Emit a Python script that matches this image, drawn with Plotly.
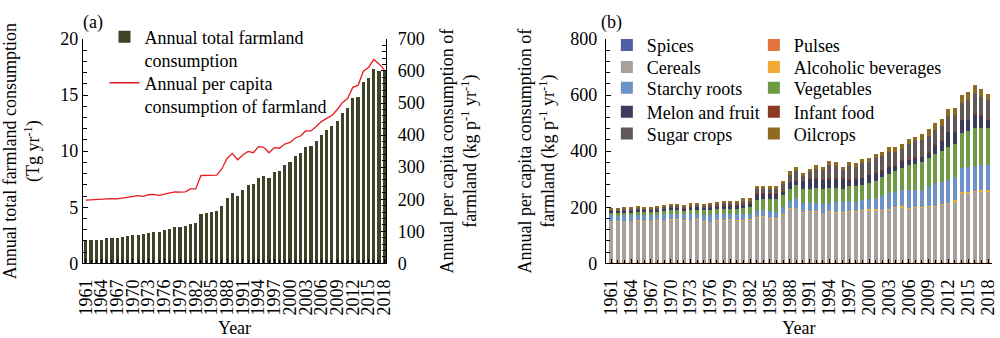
import plotly.graph_objects as go

# ---------------- data ----------------
years = list(range(1961, 2019))

# Panel (a): annual total farmland consumption (Tg/yr)
total_farmland = [1.96, 2.04, 2.09, 2.09, 2.23, 2.23, 2.26, 2.32, 2.46, 2.51,
                  2.57, 2.60, 2.71, 2.79, 2.82, 2.96, 3.07, 3.21, 3.24, 3.35,
                  3.52, 3.63, 4.36, 4.47, 4.61, 4.69, 5.11, 5.81, 6.31, 6.03,
                  6.56, 6.98, 7.04, 7.63, 7.77, 7.60, 8.10, 8.21, 8.72, 9.02,
                  9.55, 9.86, 10.34, 10.50, 10.92, 11.45, 11.87, 12.23, 12.71, 13.44,
                  13.85, 14.75, 14.83, 16.17, 16.51, 17.35, 17.18, 17.15]

# Panel (a): annual per capita consumption of farmland (kg/p/yr)
per_capita = [197.5, 198.5, 199.5, 200, 203, 202, 201, 204, 207, 210,
              211, 209, 214, 215, 212, 216, 219, 223, 222, 223,
              232, 232, 274, 275, 275, 275, 295, 328, 343, 323,
              338, 349, 345, 364, 362, 345, 361, 359, 372, 377,
              391, 397, 413, 413, 427, 442, 452, 461, 479, 501,
              514, 549, 555, 599, 611, 636, 622, 604]

# Panel (b): per capita consumption by food group (kg/p/yr)
spices = [0.5] * 58
pulses = [5.0] * 58
cereals = [146.5, 145.5, 146.5, 146.5, 147.5, 145.5, 144.5, 147.5, 149.5, 152.5,
           150.5, 148.5, 149.5, 151.5, 145.5, 142.5, 148.5, 148.5, 150.5, 148.5,
           147.5, 151.5, 159.5, 161.5, 156.5, 154.5, 170.5, 189.5, 192.5, 176.5,
           179.5, 179.5, 174.5, 179.5, 177.5, 177.5, 181.5, 179.5, 184.5, 184.5,
           184.5, 182.5, 187.5, 193.5, 195.5, 190.5, 193.5, 193.5, 196.5, 196.5,
           204.5, 207.5, 215.5, 245.5, 245.5, 249.5, 252.5, 252.5]
alcoholic = [0.5] * 22 + [1.0] * 17 + [2.0] * 12 + [3.5] * 7
starchy_roots = [19, 19, 19, 19, 20, 21, 21, 20, 20, 19,
                 20, 20, 21, 20, 22, 24, 21, 21, 20, 20,
                 21, 19, 22, 22, 24, 23, 24, 25, 33, 32,
                 31, 29, 29, 29, 33, 33, 33, 31, 36, 37,
                 40, 50, 54, 54, 58, 63, 62, 62, 73, 81,
                 78, 79.5, 82.5, 86.5, 87.5, 88.5, 87.5, 88.5]
vegetables = [8, 9, 9, 9, 10, 10, 10, 11, 11, 12,
              13, 13, 14, 14, 15, 16, 17, 19, 19, 21,
              23, 24, 39, 40, 43, 46, 42, 45, 47, 49,
              47, 53, 54, 53, 52, 49, 54, 60, 52, 59,
              62, 68, 71, 73, 80, 89, 92, 99, 97, 106,
              112, 118, 117, 124, 128, 137, 132, 134]
melon_fruit = [8, 8, 8, 9, 9, 9, 9, 9, 9, 9,
               10, 10, 10, 10, 10, 11, 11, 12, 12, 12,
               13, 13, 22, 19, 19, 19, 14, 25, 17, 30,
               39, 35, 35, 35, 34, 37, 24, 26, 26, 28,
               30, 25, 27, 22, 26, 22, 23, 18, 23, 33,
               37, 55, 45, 47, 42, 47, 48, 30]
infant_food = [0.3] * 58
sugar_crops = [4.7, 5.7, 5.7, 5.2, 5.2, 5.2, 5.2, 5.2, 6.2, 6.2,
               6.2, 6.2, 7.2, 7.2, 7.2, 10.2, 9.2, 10.2, 8.2, 9.2,
               14.2, 11.2, 14.7, 14.7, 14.7, 14.7, 25.7, 23.7, 33.7, 17.7,
               21.7, 31.7, 33.7, 46.7, 44.7, 29.7, 48.7, 41.7, 52.7, 44.7,
               49.7, 50.7, 50.7, 47.7, 41.7, 52.7, 57.7, 59.7, 57.7, 50.7,
               50.7, 55.7, 60.7, 60.7, 69.7, 75.7, 63.7, 67.7]
oilcrops = [5, 5, 5, 5, 5, 5, 5, 5, 5, 5,
            5, 5, 6, 6, 6, 6, 6, 6, 6, 6,
            7, 7, 10, 11, 11, 11, 12, 13, 13, 11,
            13, 14, 12, 14, 14, 12, 13, 14, 14, 16,
            17, 13, 15, 15, 18, 17, 16, 21, 24, 26,
            24, 24, 25, 26, 29, 29, 29, 22]

groups = [
    ("Spices", spices, "#4e5fa6"),
    ("Pulses", pulses, "#e2733d"),
    ("Cereals", cereals, "#a8a09b"),
    ("Alcoholic beverages", alcoholic, "#f2aa33"),
    ("Starchy roots", starchy_roots, "#6d92c7"),
    ("Vegetables", vegetables, "#6c9b43"),
    ("Melon and fruit", melon_fruit, "#3b3b5c"),
    ("Infant food", infant_food, "#8a3b20"),
    ("Sugar crops", sugar_crops, "#615757"),
    ("Oilcrops", oilcrops, "#8f6b1f"),
]

FONT = "Liberation Serif, Times New Roman, serif"
W, H = 1000, 338

fig = go.Figure()

# ---- panel (a) ----
fig.add_trace(go.Bar(
    x=years, y=total_farmland, xaxis="x", yaxis="y", width=0.6,
    marker=dict(color="#3d4327", line=dict(width=0)),
    name="Annual total farmland<br>consumption", legend="legend", showlegend=True))
fig.add_trace(go.Scatter(
    x=years, y=per_capita, xaxis="x", yaxis="y2", mode="lines",
    line=dict(color="#e8191f", width=1.3),
    name="Annual per capita<br>consumption of farmland", legend="legend2", showlegend=True))

# ---- panel (b) ----
for i, (name, vals, col) in enumerate(groups):
    kw = dict(legendwidth=102) if i % 2 == 0 else {}
    fig.add_trace(go.Bar(
        x=years, y=vals, xaxis="x2", yaxis="y3", width=0.6,
        marker=dict(color=col, line=dict(width=0)),
        name=name, legend="legend%d" % (3 + i // 2), showlegend=True, **kw))

ydom = [(H - 269.3) / H, (H - 30.7) / H]
tfont = dict(family=FONT, size=18, color="black")
common_axis = dict(showline=True, linecolor="black", linewidth=1, showgrid=False,
                   zeroline=False, tickfont=tfont, tickcolor="black")

xcommon = dict(common_axis, tickmode="linear", tick0=1961, dtick=3, tickangle=-90,
               ticks="inside", ticklen=4, ticklabelstandoff=8,
               minor=dict(dtick=1, tick0=1961, ticks="inside", ticklen=3, tickcolor="black"),
               title=dict(text="Year", font=tfont, standoff=10))

layout = dict(
    width=W, height=H, margin=dict(l=0, r=0, t=0, b=0),
    paper_bgcolor="white", plot_bgcolor="white", barmode="stack", showlegend=True,
    font=dict(family=FONT, size=18, color="black"),
    xaxis=dict(xcommon, domain=[77 / W, 385 / W], range=[1960.44, 2018.38], anchor="y"),
    yaxis=dict(common_axis, domain=ydom, range=[0, 20], tickmode="linear", tick0=0, dtick=5,
               ticks="inside", ticklen=5, anchor="x",
               minor=dict(dtick=1, ticks="inside", ticklen=4, tickcolor="black"),
               title=dict(text="Annual total farmland consumption<br>(Tg yr<sup>-1</sup>)",
                          font=tfont, standoff=20)),
    yaxis2=dict(common_axis, overlaying="y", side="right", anchor="x", range=[0, 700],
                tickmode="linear", tick0=0, dtick=100, ticks="inside", ticklen=5,
                ticklabelstandoff=7,
                minor=dict(dtick=20, ticks="inside", ticklen=4, tickcolor="black"),
                title=dict(text="Annual per capita consumption of<br>farmland (kg p<sup>-1</sup> yr<sup>-1</sup>)",
                           font=tfont, standoff=16)),
    xaxis2=dict(xcommon, domain=[608 / W, 1.0], range=[1960.2, 2018.6], anchor="y3"),
    yaxis3=dict(common_axis, domain=ydom, range=[0, 800], tickmode="linear", tick0=0, dtick=200,
                ticks="inside", ticklen=5, anchor="x2", ticklabelstandoff=4,
                minor=dict(dtick=40, ticks="inside", ticklen=4, tickcolor="black"),
                title=dict(text="Annual per capita consumption of<br>farmland (kg p<sup>-1</sup> yr<sup>-1</sup>)",
                           font=tfont, standoff=10)),
)

legfont = dict(family=FONT, size=18, color="black")
# panel (a) legends
layout["legend"] = dict(x=99 / W, y=1 - 9 / H, xanchor="left", yanchor="top", valign="top",
                        bgcolor="rgba(0,0,0,0)", font=legfont, traceorder="normal")
layout["legend2"] = dict(x=99 / W, y=1 - 58 / H, xanchor="left", yanchor="top", valign="top",
                         bgcolor="rgba(0,0,0,0)", font=legfont, traceorder="normal")
# panel (b) legends: one per row, two entries each
row_y = [37.5, 60.8, 83, 108.4, 131.7]
for r, yy in enumerate(row_y):
    layout["legend%d" % (3 + r)] = dict(
        x=609 / W, y=1 - yy / H, xanchor="left", yanchor="middle",
        orientation="h", bgcolor="rgba(0,0,0,0)", font=legfont, traceorder="normal")

layout["annotations"] = [
    dict(text="(a)", x=87 / W, y=1, xref="paper", yref="paper", showarrow=False,
         xanchor="center", yanchor="top", font=tfont),
    dict(text="(b)", x=614 / W, y=1, xref="paper", yref="paper", showarrow=False,
         xanchor="center", yanchor="top", font=tfont),
]

fig.update_layout(**layout)
fig.write_html("out.html")
